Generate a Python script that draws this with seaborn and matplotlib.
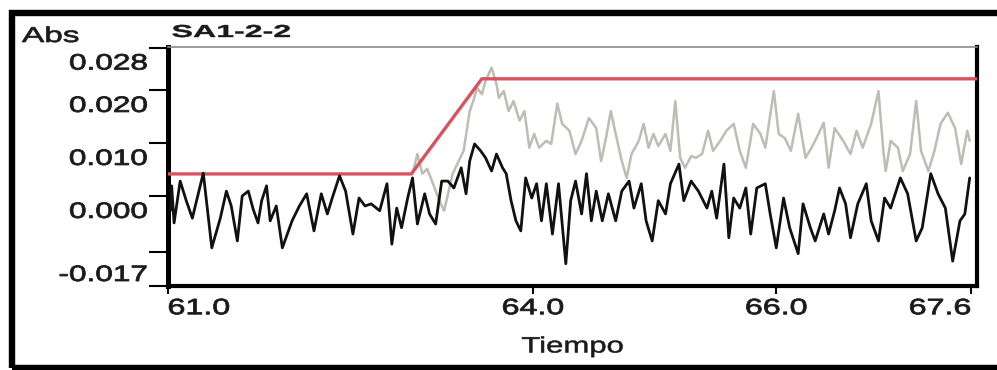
import numpy as np
import pandas as pd
import matplotlib
matplotlib.use("Agg")
import matplotlib.pyplot as plt
import seaborn as sns
from matplotlib import patheffects
from matplotlib.transforms import Affine2D, ScaledTranslation
from matplotlib.patches import Rectangle

# ---- data (absorbance in milli-units, time in minutes) ----
black_t = [61.02, 61.03, 61.05, 61.10, 61.15, 61.20, 61.29, 61.36, 61.43, 61.48,
           61.52, 61.57, 61.61, 61.66, 61.70, 61.74, 61.77, 61.81, 61.84, 61.89,
           61.94, 62.02, 62.08, 62.14, 62.20, 62.26, 62.31, 62.35, 62.41, 62.46,
           62.52, 62.57, 62.62, 62.67, 62.74, 62.80, 62.84, 62.88, 62.92, 62.97,
           63.01, 63.05, 63.11, 63.15, 63.20, 63.25, 63.30, 63.35, 63.41, 63.45,
           63.48, 63.52, 63.57, 63.61, 63.66, 63.70, 63.75, 63.78, 63.82, 63.86,
           63.90, 63.94, 63.99, 64.03, 64.07, 64.11, 64.16, 64.21, 64.27, 64.31,
           64.35, 64.40, 64.44, 64.48, 64.52, 64.57, 64.62, 64.68, 64.73, 64.79,
           64.83, 64.89, 64.93, 64.98, 65.03, 65.09, 65.13, 65.20, 65.24, 65.30,
           65.36, 65.43, 65.47, 65.51, 65.57, 65.61, 65.65, 65.70, 65.75, 65.79,
           65.84, 65.91, 65.95, 66.00, 66.06, 66.11, 66.18, 66.22, 66.28, 66.32,
           66.39, 66.43, 66.48, 66.52, 66.57, 66.61, 66.67, 66.74, 66.78, 66.84,
           66.89, 66.94, 67.02, 67.08, 67.15, 67.20, 67.27, 67.33, 67.39, 67.45,
           67.51, 67.55, 67.59]
black_mabs = [-2.8, 1.9, -5.1, 2.8, -0.9, -4.2, 4.3, -9.8, -4.2, 0.9,
              -1.9, -8.5, 0.0, 0.9, -2.5, -5.1, -0.9, 1.9, -4.7, -1.9,
              -9.8, -4.7, -1.9, 0.4, -6.6, 0.4, -3.4, -0.4, 3.8, 0.9,
              -7.2, -0.4, -1.9, -1.5, -2.8, 2.3, -9.1, -2.3, -6.0, -0.4,
              3.4, -5.3, 0.4, -3.4, -5.3, 2.8, 2.8, 1.5, 5.3, 0.4,
              6.6, 9.8, 8.5, 7.2, 4.7, 7.9, 5.3, 4.2, -0.9, -4.7,
              -6.6, 3.4, -0.4, 2.3, -4.7, 2.3, -7.2, 2.3, -12.8, -0.9,
              2.8, -3.4, 4.2, -4.7, 0.9, -4.7, 0.4, -4.7, 0.9, 2.8,
              -2.3, 2.3, -4.7, -8.5, -0.9, -3.4, 2.3, 6.0, -0.9, 2.8,
              0.9, -2.3, 0.9, -4.2, 6.0, -7.9, -0.4, -2.3, 1.5, -7.2,
              1.5, 2.3, -3.4, -9.8, -0.4, -6.0, -10.9, -1.5, -6.0, -8.5,
              -3.4, -7.2, -2.8, 1.5, -1.5, -7.9, -1.5, 2.3, -4.7, -8.5,
              -0.4, -2.3, 3.4, 0.4, -8.5, -6.0, 4.2, 0.4, -2.3, -12.3,
              -4.7, -3.4, 3.4]

gray_t = [63.01, 63.05, 63.09, 63.13, 63.17, 63.23, 63.27, 63.34, 63.39, 63.43,
          63.48, 63.51, 63.54, 63.58, 63.61, 63.66, 63.70, 63.72, 63.76, 63.80,
          63.84, 63.89, 63.93, 63.97, 64.01, 64.05, 64.11, 64.15, 64.20, 64.24,
          64.30, 64.35, 64.40, 64.46, 64.52, 64.56, 64.60, 64.64, 64.68, 64.73,
          64.77, 64.81, 64.87, 64.91, 64.95, 64.99, 65.03, 65.09, 65.13, 65.17,
          65.21, 65.25, 65.30, 65.34, 65.39, 65.44, 65.48, 65.54, 65.59, 65.65,
          65.70, 65.75, 65.81, 65.87, 65.91, 65.98, 66.02, 66.07, 66.12, 66.18,
          66.24, 66.29, 66.33, 66.39, 66.43, 66.48, 66.55, 66.61, 66.66, 66.71,
          66.78, 66.84, 66.88, 66.90, 66.94, 67.00, 67.04, 67.10, 67.15, 67.19,
          67.25, 67.30, 67.35, 67.41, 67.47, 67.52, 67.57, 67.59]
gray_mabs = [4.2, 7.9, 4.2, 5.1, 2.8, -0.9, -2.8, 4.2, 6.6, 8.5,
             16.0, 17.9, 20.4, 19.2, 21.7, 24.2, 21.1, 18.5, 19.8, 16.0,
             17.9, 14.2, 16.0, 9.1, 11.7, 9.1, 10.4, 9.8, 17.4, 13.6,
             12.3, 7.9, 10.4, 14.7, 12.8, 6.6, 10.9, 16.0, 11.7, 6.6,
             3.4, 7.9, 10.4, 13.6, 9.1, 11.7, 9.4, 11.7, 8.5, 17.9,
             7.2, 5.3, 7.5, 7.2, 7.9, 12.3, 8.5, 10.4, 12.3, 13.6,
             8.5, 5.3, 13.6, 11.7, 9.1, 19.8, 11.7, 10.9, 8.5, 15.5,
             7.2, 9.1, 10.9, 13.8, 5.3, 12.8, 10.4, 7.9, 12.3, 9.1,
             13.6, 19.8, 8.5, 4.7, 10.4, 9.1, 4.7, 7.9, 17.9, 8.5,
             4.7, 8.5, 13.6, 15.7, 12.8, 6.0, 12.3, 10.4]

# gradient program (reference trace)
red_t = [61.0, 63.0, 63.58, 67.65]
red_mabs = [4.15, 4.15, 22.1, 22.1]

xtick_vals = [61.0, 64.0, 66.0, 67.6]
xtick_labels = ["61.0", "64.0", "66.0", "67.6"]
ytick_vals = [0.028, 0.020, 0.010, 0.000, -0.017]
ytick_labels = ["0.028", "0.020", "0.010", "0.000", "-0.017"]
ytick_minor = [-0.0106]


class HStretch(patheffects.AbstractPathEffect):
    """Widen glyphs horizontally about an anchor of the text line,
    with an optional outline to give the strokes more weight."""

    def __init__(self, factor, anchor="center", weight=0.0):
        super().__init__()
        self.factor = factor
        self.anchor = anchor
        self.weight = weight

    def draw_path(self, renderer, gc, tpath, affine, rgbFace=None):
        ext = tpath.get_extents()
        if self.anchor == "left":
            cx = ext.x0
        elif self.anchor == "right":
            cx = ext.x1
        else:
            cx = 0.5 * (ext.x0 + ext.x1)
        widen = Affine2D().translate(-cx, 0).scale(self.factor, 1).translate(cx, 0)
        gc0 = renderer.new_gc()
        gc0.copy_properties(gc)
        if self.weight > 0 and rgbFace is not None:
            gc0.set_linewidth(self.weight)
            gc0.set_foreground(rgbFace)
            gc0.set_joinstyle("round")
        renderer.draw_path(gc0, tpath, widen + affine, rgbFace)
        gc0.restore()


sns.set_style("white")
plt.rcParams["font.family"] = ["Liberation Sans", "DejaVu Sans"]

W, H, DPI = 997, 370, 100
fig = plt.figure(figsize=(W / DPI, H / DPI), dpi=DPI)
fig.patch.set_facecolor("white")
ax = fig.add_axes([168 / W, 1 - 286 / H, 809 / W, 239 / H])

df_black = pd.DataFrame({"t": black_t, "abs": np.array(black_mabs) / 1000})
df_gray = pd.DataFrame({"t": gray_t, "abs": np.array(gray_mabs) / 1000})
df_red = pd.DataFrame({"t": red_t, "abs": np.array(red_mabs) / 1000})

sns.lineplot(data=df_gray, x="t", y="abs", ax=ax, color="#bdbdb3", linewidth=1.8,
             sort=False, estimator=None, zorder=2)
sns.lineplot(data=df_red, x="t", y="abs", ax=ax, color="#d9535e", linewidth=2.4,
             sort=False, estimator=None, zorder=3)
sns.lineplot(data=df_black, x="t", y="abs", ax=ax, color="#111111", linewidth=2.0,
             sort=False, estimator=None, zorder=4)

ax.set_xlim(61.0, 67.65)
ax.set_ylim(-0.0170, 0.0281)
ax.set_ylabel("")

# spines
for side, lw, col in [("left", 3.6, "black"), ("bottom", 3.0, "black"),
                      ("right", 3.0, "black"), ("top", 1.2, "#8a8a8a")]:
    ax.spines[side].set_visible(True)
    ax.spines[side].set_linewidth(lw)
    ax.spines[side].set_color(col)

# ticks
ax.set_xticks(xtick_vals)
ax.set_yticks(ytick_vals)
ax.set_yticks(ytick_minor, minor=True)
ax.tick_params(axis="y", which="both", direction="out", left=True, length=13.7,
               width=1.5, color="black", pad=1)
ax.tick_params(axis="x", which="major", direction="out", bottom=True, length=5.8,
               width=1.5, color="black", pad=3)
ax.set_xticklabels(xtick_labels, fontsize=16, color="#1a1a1a")
ax.set_yticklabels(ytick_labels, fontsize=16, color="#1a1a1a")

xlabels = ax.get_xticklabels()
for i, lab in enumerate(xlabels):
    if i == 0:
        lab.set_ha("left")
        lab.set_path_effects([HStretch(1.45, "left", 0.6)])
    elif i == len(xlabels) - 1:
        lab.set_ha("right")
        lab.set_path_effects([HStretch(1.45, "right", 0.6)])
    else:
        lab.set_path_effects([HStretch(1.45, "center", 0.6)])

ylabels = ax.get_yticklabels()
for i, lab in enumerate(ylabels):
    dy = 0.13 if i == len(ylabels) - 1 else -0.14
    lab.set_transform(lab.get_transform() + ScaledTranslation(0, dy, fig.dpi_scale_trans))
    lab.set_path_effects([HStretch(1.42, "right", 0.6)])

ax.set_xlabel("Tiempo", fontsize=16, color="#1a1a1a")
ax.xaxis.set_label_coords(0.5, (286 - 347) / 239)
ax.xaxis.label.set_va("center")
ax.xaxis.label.set_path_effects([HStretch(1.4, "center", 0.4)])

# headings
t1 = fig.text(22 / W, 1 - 42 / H, "Abs", fontsize=15.5, ha="left", va="baseline",
              color="#1a1a1a")
t1.set_path_effects([HStretch(1.55, "left", 0.5)])
t2 = fig.text(172 / W, 1 - 37 / H, "SA1-2-2", fontsize=12.5, fontweight="bold",
              ha="left", va="baseline", color="#1a1a1a")
t2.set_path_effects([HStretch(1.85, "left", 0.3)])

# outer frame
fig.add_artist(Rectangle((11.5 / W, 1 - 367.5 / H), (1010 - 11.5) / W, (367.5 - 12.5) / H,
                         transform=fig.transFigure, fill=False, edgecolor="black",
                         linewidth=4.6, clip_on=False))

fig.savefig("out.png", dpi=DPI, facecolor="white")
